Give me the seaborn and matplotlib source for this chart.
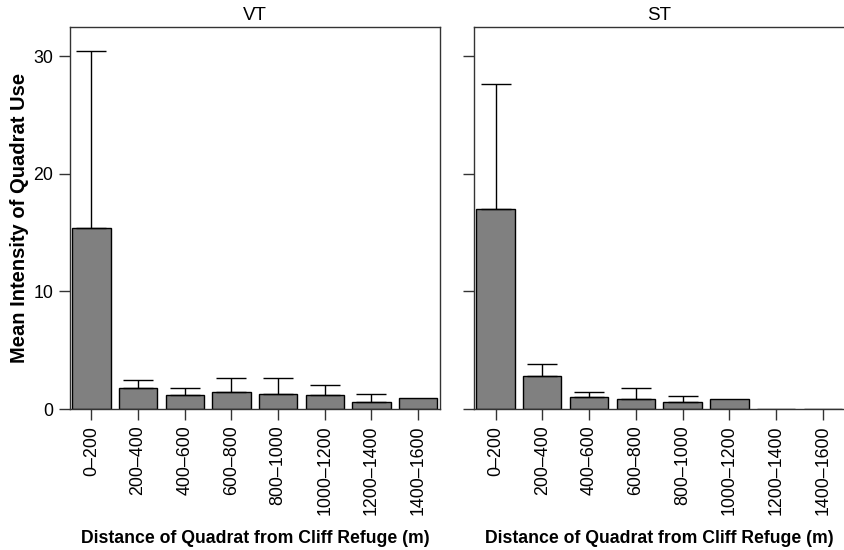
import matplotlib
matplotlib.use("Agg")
import matplotlib.pyplot as plt
import seaborn as sns
import pandas as pd
import numpy as np

categories = ["0–200", "200–400", "400–600", "600–800", "800–1000",
              "1000–1200", "1200–1400", "1400–1600"]
vt_mean = [15.4, 1.75, 1.15, 1.45, 1.3, 1.15, 0.57, 0.9]
vt_upper = [30.5, 2.5, 1.75, 2.65, 2.65, 2.05, 1.3, 0.9]
st_mean = [17.0, 2.8, 1.0, 0.88, 0.57, 0.88, 0.0, 0.0]
st_upper = [27.65, 3.85, 1.45, 1.75, 1.13, 0.88, 0.0, 0.0]
panel_titles = ["VT", "ST"]
y_ticks = [0, 10, 20, 30]
x_label = "Distance of Quadrat from Cliff Refuge (m)"
y_label = "Mean Intensity of Quadrat Use"

sns.set_theme(style="white")
plt.rcParams["font.family"] = ["Liberation Sans", "DejaVu Sans"]
plt.rcParams["text.color"] = "black"
plt.rcParams["axes.labelcolor"] = "black"
plt.rcParams["xtick.color"] = "black"
plt.rcParams["ytick.color"] = "black"

fig = plt.figure(figsize=(8.44, 5.5), dpi=100)
W, H = 844.0, 550.0
ax1 = fig.add_axes([70 / W, (H - 409) / H, 370 / W, 382 / H])
ax2 = fig.add_axes([474 / W, (H - 409) / H, 371 / W, 382 / H])

edge = "#333333"
for ax, title, means, uppers, show_y in [
    (ax1, panel_titles[0], vt_mean, vt_upper, True),
    (ax2, panel_titles[1], st_mean, st_upper, False),
]:
    df = pd.DataFrame({"cat": categories, "mean": means, "upper": uppers})
    sns.barplot(data=df, x="cat", y="mean", color="#808080", saturation=1,
                edgecolor="black", linewidth=1.0, width=0.82, ax=ax)
    xs = np.arange(len(categories))
    m = np.array(means)
    u = np.array(uppers)
    has = u > m
    ax.errorbar(xs[has], m[has], yerr=[np.zeros(has.sum()), (u - m)[has]],
                fmt="none", ecolor="black", elinewidth=1.0, capsize=11,
                capthick=1.0, zorder=1)
    ax.set_xlim(-0.46, 7.47)
    ax.set_ylim(0, 32.5)
    ax.set_yticks(y_ticks)
    ax.set_title(title, fontsize=13.5, pad=5, color="black")
    ax.set_xlabel(x_label, fontsize=12.7, fontweight="bold")
    ax.xaxis.set_label_coords(0.5, (409 - 530) / 382.0)
    ax.xaxis.label.set_va("top")
    ax.tick_params(axis="both", which="both", direction="out", length=8,
                   width=1.0, color=edge, labelsize=12.8, pad=4,
                   labelcolor="black", bottom=True, left=True)
    for lbl in ax.get_xticklabels():
        lbl.set_rotation(90)
    for s in ax.spines.values():
        s.set_color(edge)
        s.set_linewidth(1.0)
    if show_y:
        ax.set_ylabel(y_label, fontsize=14.5, fontweight="bold", labelpad=3)
    else:
        ax.set_ylabel("")
        ax.set_yticklabels([])

fig.savefig("out.png", dpi=100, facecolor="white")
